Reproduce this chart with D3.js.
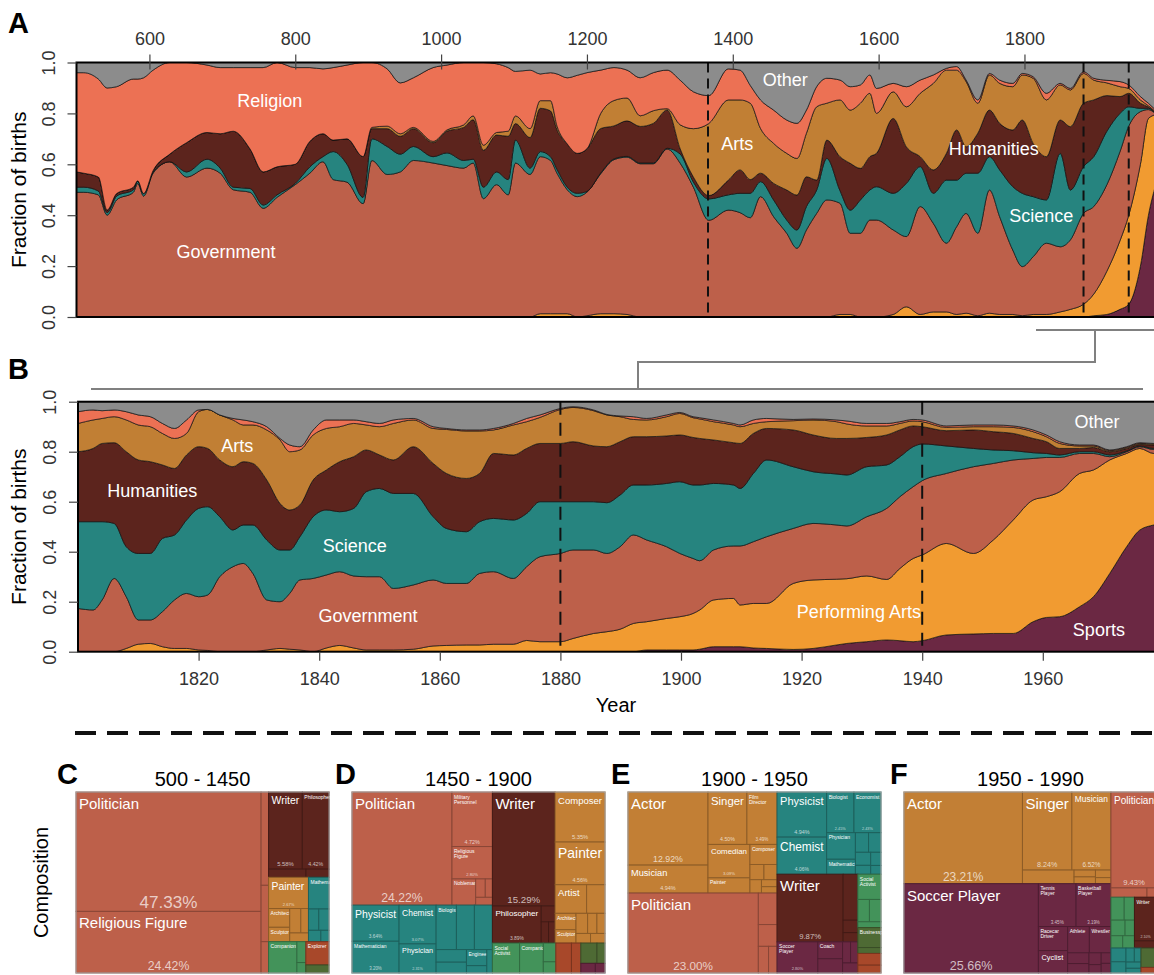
<!DOCTYPE html>
<html lang="en">
<head>
<meta charset="UTF-8">
<title>Fraction of births by domain</title>
<script src="https://d3js.org/d3.v7.min.js"></script>
<style>
  body { margin: 0; background: #fff; }
  svg { font-family: "Liberation Sans", Arial, Helvetica, sans-serif; }
</style>
</head>
<body>
<div id="chart"></div>
<script>

// ---- data: panel A (500 - 1980), shares in percent ----
const yearsA = [500,510,530,542,555,578,584,592,605,628,651,679,697,715,738,756,775,800,820,838,
  852,871,893,905,926,944,962,989,1008,1031,1044,1058,1076,1092,1102,1122,1136,1150,1159,1173,
  1187,1200,1219,1237,1255,1273,1291,1310,1328,1346,1367,1394,1410,1424,1438,1456,1474,1488,1501,1515,
  1529,1547,1561,1575,1588,1597,1620,1638,1657,1675,1693,1707,1720,1736,1752,1766,1784,1797,1812,1830,
  1849,1863,1881,1895,1913,1931,1943,1959,1970,1980];

const otherA = [4,4,6.5,10,9.5,6.5,6.5,6,3,0, 0,1,2,2,2,2,0,2,2,2.5,
  2,1,0,0,2.5,8,6,2,1,0, 0,0,0.5,2,3.5,3,4.5,4,4.5,6,
  5,4,3,2,3,6,4,3,7,11.5, 13,2.5,3,9,14.7,18.7,22.6,23.9,18.7,9.5,
  6.2,6.9,9.5,8.8,4.9,10.2,8.2,9.5,6.9,4.9, 2.3,1.6,6.9,14.7,4.3,6.9,8.2,4.3,5.6,12.1,
  8.2,10.2,3.6,6.2,7,7.5,8.8,13.4,16,18.7];
const religionA = [39,39.5,38.5,48,42,42.5,40,45.5,39.5,36, 31.5,26.5,26,25,32,41,41,38,29,25.5,
  28.5,29,37,25.5,22.5,20,19.5,29,25.5,24.5, 21,32.5,27,25,17.5,23,10.5,11,20.5,26,
  30.7,30,17,13,11,15,15,15.2,17.5,14.5, 11,12.2,11.7,7,11.2,13.1,13.1,13.8,9.1,7.9,
  9.8,7.8,9.2,7.2,7.2,9.8,3.3,7.9,5.2,3.3, 0.7,1.4,0.6,1.3,0.6,1.3,1.3,0.6,0.6,2.6,
  0.6,0.6,0.7,0.7,1,2,1.4,1.3,1,0.6];
const artsA = [0,0,0,0,0,0,0,0,0,0, 0,0,0,0,0,0,0,0,0,0,
  0,0,0,0.5,1,1,0.5,0.5,0.5,1, 1.5,2,1,2,3,3.5,3,4,1.5,0,
  0,0,6,10,9,4.2,5,0.5,9.5,19, 28.3,31.5,27.5,30,17.6,15.7,14.4,14.4,17.1,28.8,
  14.5,22.3,20.9,25.6,24.9,15.7,10.5,15.7,24.9,34, 32.7,23.5,25.6,11.8,13.8,15.7,17,17.7,25.6,22.3,
  13.8,14.4,11.7,7.8,5,3.9,1.9,1.3,0.5,0.4];
const humanitiesA = [6,5.5,5.5,1,1,1,0,0,0.5,3, 11.5,10.5,13.5,22,15.5,13,11,7.5,10,9,
  4.5,10,16,4,7,7,7,5.5,8.5,13, 15.5,14.5,14.5,17,6.5,12,17,18,15.5,17,
  15.7,16.8,17.5,13,14,14.4,15.6,15.1,2,2, 1.3,5.8,9.2,5.4,3.3,6.5,11.8,13.7,11.7,3.9,
  7.2,13.3,18.4,12.4,13.1,13.1,29.4,14.4,3.9,9.2, 10.5,19.7,10.4,15.7,18.3,18.3,22.3,28.8,20.9,17,
  13.1,24.9,24.9,22.3,14,6.6,5.3,2,0.5,0.3];
const scienceA = [2,2,1.5,1,1.5,1,1,1,0.5,0, 2,3.5,2,1,1.5,1.3,1,0.5,2.5,2,
  11,7,2.5,8.5,11,7,5.5,2.5,5,3, 1.5,4.5,5,6,9,2.5,2,1.5,1.5,1,
  1.3,0.3,0.3,0.3,0.3,0.3,0.3,0.3,3.6,2, 8.4,6,7.6,9.6,5.9,6.6,5.2,7.2,9.2,9.2,
  16.3,5,9.1,13.1,11.8,13.1,14.4,20.9,15.7,11.8, 24.8,18.3,15.8,23.6,13.1,18.4,24.9,28.8,23.6,17,
  36.7,19.6,18.4,19.6,21,15,7.6,1.3,0.5,0.2];
const governmentA = [49,49,48,40,46,49,52.5,47.5,56.5,61, 55,58.5,56.5,50,49,42.7,47,52,56.5,61,
  54,53,44.5,61.5,56,57,61.5,60.5,59.5,58.5, 60.5,46.5,52,48,60.5,56,61.7,60.2,55.2,48.7,
  47.3,48.7,55.2,60.7,62,60.4,60.4,66.2,60.4,51, 38,42,41,39,47.3,39.4,32.9,27,34.2,40.7,
  46,43.7,31.9,32.9,38.1,38.1,33.2,27.6,42.4,34.8, 27,34.5,39.2,32.4,48.4,38.4,25.3,19.3,22.7,28,
  25.6,27.3,35.7,34.4,34,35,35,20.7,3.5,0.3];
const perfArtsA = [0,0,0,0,0,0,0,0,0,0, 0,0,0,0,0,0,0,0,0,0,
  0,0,0,0,0,0,0,0,0,0, 0,0,0,0,0,0,1.3,1.3,1.3,1.3,
  0,0.5,1.3,1.3,1,0,0,0,0,0, 0,0,0,0,0,0,0,0,0,0,
  0,1,1,0,0,0,1,4,1,2, 2,1,1.5,0.5,1.5,1,1,0.5,1,1,
  2,3,5,8.5,17,27,35,40,38,27.5];
const sportsA = [0,0,0,0,0,0,0,0,0,0, 0,0,0,0,0,0,0,0,0,0,
  0,0,0,0,0,0,0,0,0,0, 0,0,0,0,0,0,0,0,0,0,
  0,0,0,0,0,0,0,0,0,0, 0,0,0,0,0,0,0,0,0,0,
  0,0,0,0,0,0,0,0,0,0, 0,0,0,0,0,0,0,0,0,0,
  0,0,0,0.5,1,3,5,20,40,52];

// ---- data: panel B (1800 - 1980), shares in percent ----
const yearsB = [1800,1802.5,1804,1806,1808,1810,1812,1814,1816,1818,1820,1821.5,1823.5,1825.7,1827.4,
  1829,1831.3,1833.5,1835.1,1836.8,1839,1841.2,1843.4,1845.7,1847.8,1850,1852.3,1855.6,1858.9,1861.1,
  1864.4,1866.6,1868.9,1872.2,1874.4,1876.6,1880,1882.1,1885.5,1887.7,1889.9,1892.1,1894.3,1897.6,1899.8,
  1902,1903.1,1905.4,1908.7,1909.8,1912,1914.2,1918.6,1921.9,1925.8,1927.5,1930.8,1934.1,1936.3,1938.5,
  1940,1944,1948.5,1951.8,1955.1,1958.4,1960.6,1962.8,1966.1,1968.4,1971.1,1973.9,1976.1,1978.4,1982];

const otherB = [4,3.3,3.6,3.3,4,5.3,6,8.7,10.7,7.3,3.3,3.1,5.3,6.7,7.3,
  8,10,14.7,17.3,18,11.3,7.3,7.3,7.3,8,8.7,7.3,6.7,10,10.7,
  11.3,11.3,10.7,8.7,6.7,5.3,2.7,2,3.3,5.1,5.7,6,6.7,5.3,4.3,
  6,6.4,7.3,8.7,9.3,7.3,6.7,7.1,6.9,7.3,7.7,8.7,8.7,8,7.1,
  7.3,9.7,9.3,9.3,9.7,11.3,13.3,16,17.3,17.3,19.3,18,16.4,16.7,16.5];
const religionB = [4.7,4,3.1,2.7,3.3,4,4,4,4,5.4,0.7,0,0,0.6,2,
  1.3,1.3,0.6,2.7,1.3,2,3.4,2.7,1.4,1.3,1.3,1.4,0.6,0.7,0.4,
  0.4,0.4,0.6,0.6,1.3,1,0.4,0.3,0.3,0.2,0.3,1.1,0.6,0.7,0.4,
  0.4,0.5,0.7,0.6,0.7,1.4,1.3,0.5,0.4,0.7,1.2,1,1,0.7,0.6,
  0.7,0.6,0.7,0.7,0.6,0.7,0.7,0.7,0.4,0.4,0.3,0.3,0.3,0.2,0.2];
const artsB = [11.3,11.4,10,10.4,12.7,14,14,12.6,12,8.6,14,15.6,18,18.7,14.7,
  15.4,20,25.4,23.3,22,18,16.6,14,13.3,10,11.3,14.6,10.7,14,17.6,
  19,17,9.4,12,10.7,10.4,13.6,13.7,14.1,12.7,10,6.9,6.7,7.7,8.6,
  7.9,7.8,7.3,7.1,6.7,4,2.7,3.7,6,6.7,5.8,4.6,3.6,2.6,2,
  2,1.3,1.3,2,2.4,2.7,2,2,1,0.6,0.4,0.4,0.4,0.4,0.3];
const humanitiesB = [28,29.3,31.3,32.3,38,37.4,36.7,29.4,26.6,26,24.7,23.3,22.7,25.3,25.3,
  24.6,24,18.6,16,12.7,14.7,16,20,20.7,16.7,13.4,13.4,18.7,21.3,22,
  21.3,19.3,26,26,26,23.3,23.3,24,22.3,22.4,21.3,19.3,19.3,19,18.7,
  19,18.6,17.4,16.9,18,16,12.6,14.7,14.7,14.2,14.6,11.7,12,10.7,8.3,
  6.9,6.1,7.4,7.3,6.9,5.7,4.7,2.6,1.3,1.7,1.3,1,0.6,1.4,1.5];
const scienceB = [34.7,35.3,31.3,22,20,26.6,26.6,29.3,26,29.4,35.3,35.3,24,14.7,15.4,
  19.4,24,20.7,17.4,17.3,24.7,26,24,27,34,35.3,38,36.6,25.3,22,
  20.7,20.7,21.3,23.4,21.3,22,20.7,19.3,19.3,20.3,20.7,20,22,25.3,28.7,
  29.4,30.3,26.6,24.4,23,27.3,30.7,24.7,20.7,20.4,20.4,20,17.4,16,16,
  14.7,11,7.3,5.4,3.7,2.3,1.6,1,0.7,0.7,0.7,0.3,0.3,0.4,0.5];
const governmentB = [17.3,16.7,20.7,29.3,20.7,9.7,9.4,14,19.4,22,21.3,22.2,30,34,35.3,
  31.3,20,18.7,22.3,28,29.3,29.2,29.5,28.8,29.3,29.3,24.6,25.7,26.4,24.8,
  24.6,28.6,29,26.3,29.5,34,35.3,35.4,33.4,31.3,33,35.4,32.7,28.7,25.3,
  22,19.7,20,21,23.6,24.7,26.7,22,22.6,21.7,21.1,23.7,28.4,28.7,28.7,
  29.7,28,34.7,30.6,24,16.6,15.7,13.7,8,6.6,1.3,0.7,0.7,1.6,1.5];
const perfArtsB = [0,0,0,0,1.3,3,3.3,2,1.3,1.3,0.7,0.5,0,0,0,
  0,0.7,1.3,1,0.7,0,1.5,2.5,1.5,0.7,0.7,0.7,1,2.3,2.5,
  2.7,2.7,3,3,4.5,4,4,5.3,7.3,8,9,11.3,11.3,12.6,13.3,
  14.6,15.7,18.7,19.3,16.7,17.8,18,26.4,27.4,26.3,25.9,26.3,24.2,28.9,33.3,
  34.3,36.6,32.2,37.4,45.4,48.7,48.3,50,53.3,50.7,45.4,37.3,32.6,28.6,27.5];
const sportsB = [0,0,0,0,0,0,0,0,0,0,0,0,0,0,0,
  0,0,0,0,0,0,0,0,0,0,0,0,0,0,0,
  0,0,0,0,0,0,0,0,0,0,0,0,0.7,0.7,0.7,
  0.7,1,2,2,2,1.5,1.3,0.9,1.3,2.7,3.3,4,4.7,4.4,4,
  4.4,6.7,7.1,7.3,7.3,12,13.7,14,18,22,31.3,42,48.7,50.7,52];

const domains = ["Sports", "Performing Arts", "Government", "Science", "Humanities", "Arts", "Religion", "Other"];
const domainColors = ["#6b2843", "#f19b31", "#bd604a", "#26847f", "#5c241d", "#c17f34", "#ec7154", "#8c8c8c"];

const tickYearsA = [600, 800, 1000, 1200, 1400, 1600, 1800];
const tickYearsB = [1820, 1840, 1860, 1880, 1900, 1920, 1940, 1960];
const tickFractions = [0, 0.2, 0.4, 0.6, 0.8, 1.0];
const cutsA = [1366, 1881, 1943];
const cutsB = [1880, 1940];

const labelsA = [["Religion", 765, 0.825], ["Government", 705, 0.232], ["Arts", 1406, 0.656],
  ["Other", 1472, 0.908], ["Humanities", 1758, 0.637], ["Science", 1823, 0.373]];
const labelsB = [["Arts", 1826.4, 0.799], ["Humanities", 1812.3, 0.619], ["Science", 1845.9, 0.399],
  ["Government", 1848.1, 0.119], ["Other", 1969, 0.895], ["Performing Arts", 1929.5, 0.135],
  ["Sports", 1969.3, 0.063]];

// ---- data: treemaps, [occupation, domain group, share %] ----
const periods = ["500 - 1450", "1450 - 1900", "1900 - 1950", "1950 - 1990"];
const compC = [
  ["Politician","gov",47.33],["Religious Figure","gov",24.42],["Nobleman","gov",1.49],["Military Personnel","gov",0.9],["Judge","gov",0.5],
  ["Writer","hum",5.58],["Philosopher","hum",4.42],["Historian","hum",0.65],["Linguist","hum",0.4],
  ["Painter","arts",2.67],["Architect","arts",0.85],["Sculptor","arts",0.65],["Artist","arts",0.58],["Composer","arts",0.4],["Musician","arts",0.35],
  ["Mathematician","sci",1.40],["Astronomer","sci",0.47],["Physician","sci",0.47],["Chemist","sci",0.3],["Geographer","sci",0.2],
  ["Companion","social",1.90],["Social Activist","social",0.4],["Celebrity","social",0.2],
  ["Explorer","explore",1.16],
  ["Businessperson","business",0.4]
];
const compD = [
  ["Politician","gov",24.22],["Military Personnel","gov",4.72],["Religious Figure","gov",2.80],["Nobleman","gov",1.33],["Judge","gov",0.38],["Diplomat","gov",0.28],["Lawyer","gov",0.28],
  ["Writer","hum",15.29],["Philosopher","hum",3.89],["Historian","hum",0.47],["Linguist","hum",0.33],["Critic","hum",0.3],
  ["Composer","arts",5.35],["Painter","arts",4.56],["Artist","arts",1.93],["Actor","arts",1.13],["Architect","arts",0.73],["Sculptor","arts",0.6],["Musician","arts",0.5],["Singer","arts",0.4],["Conductor","arts",0.35],["Photographer","arts",0.3],["Designer","arts",0.3],
  ["Physicist","sci",3.64],["Mathematician","sci",3.20],["Chemist","sci",3.07],["Physician","sci",2.31],["Biologist","sci",1.93],["Astronomer","sci",1.71],["Inventor","sci",1.71],["Economist","sci",0.82],["Geologist","sci",0.7],["Engineer","sci",0.7],["Psychologist","sci",0.32],["Geographer","sci",0.28],
  ["Social Activist","social",1.74],["Companion","social",1.52],["Celebrity","social",0.5],["Journalist","social",0.3],
  ["Explorer","explore",1.00],["Pilot","explore",0.6],
  ["Businessperson","business",0.7],["Lawyer","business",0.35],
  ["Athlete","sports",0.3],["Chess Player","sports",0.2]
];
const compE = [
  ["Actor","arts",12.92],["Musician","arts",4.94],["Singer","arts",4.50],["Film Director","arts",3.49],["Comedian","arts",3.09],["Painter","arts",1.41],["Composer","arts",1.2],["Dancer","arts",0.47],["Architect","arts",0.44],["Conductor","arts",0.34],["Artist","arts",0.24],["Producer","arts",0.22],
  ["Politician","gov",23.00],["Military Personnel","gov",1.3],["Nobleman","gov",0.9],["Judge","gov",0.6],["Diplomat","gov",0.5],
  ["Physicist","sci",4.94],["Chemist","sci",4.06],["Biologist","sci",2.45],["Economist","sci",2.43],["Physician","sci",1.69],["Mathematician","sci",0.95],["Psychologist","sci",0.57],["Engineer","sci",0.54],["Inventor","sci",0.44],["Astronomer","sci",0.3],["Computer Scientist","sci",0.3],["Geologist","sci",0.2],
  ["Writer","hum",9.87],["Philosopher","hum",1.49],["Historian","hum",0.4],["Linguist","hum",0.3],
  ["Soccer Player","sports",2.80],["Coach","sports",0.92],["Racecar Driver","sports",0.78],["Cyclist","sports",0.37],["Athlete","sports",0.34],["Boxer","sports",0.34],
  ["Social Activist","social",1.29],["Celebrity","social",0.57],["Journalist","social",0.57],["Model","social",0.3],
  ["Businessperson","business",1.02],["Lawyer","business",0.3],
  ["Explorer","explore",0.6],["Astronaut","explore",0.4]
];
const compF = [
  ["Actor","arts",23.21],["Singer","arts",8.24],["Musician","arts",6.52],["Film Director","arts",1.5],["Comedian","arts",0.31],["Producer","arts",0.31],["Dancer","arts",0.25],["Composer","arts",0.2],
  ["Soccer Player","sports",25.66],["Tennis Player","sports",3.45],["Basketball Player","sports",3.19],["Racecar Driver","sports",1.50],["Cyclist","sports",1.40],["Athlete","sports",1.22],["Wrestler","sports",1.21],["Boxer","sports",0.49],["Skier","sports",0.43],["Swimmer","sports",0.31],["Golfer","sports",0.22],["Gymnast","sports",0.22],["Chess Player","sports",0.2],
  ["Politician","gov",9.43],["Military Personnel","gov",0.72],["Nobleman","gov",0.2],
  ["Model","social",0.65],["Social Activist","social",0.5],["Celebrity","social",0.47],["Journalist","social",0.31],["Presenter","social",0.31],["Magician","social",0.31],
  ["Writer","hum",2.10],["Philosopher","hum",0.35],
  ["Physicist","sci",0.44],["Computer Scientist","sci",0.36],["Economist","sci",0.25],["Biologist","sci",0.2],["Chemist","sci",0.2],["Mathematician","sci",0.15],
  ["Businessperson","business",0.66],
  ["Astronaut","explore",0.19]
];
const compositions = [compC, compD, compE, compF];
const groupColors = {gov: "#bd604a", arts: "#c27f35", hum: "#5c241d", sci: "#26847f",
  sports: "#6b2843", social: "#43935a", explore: "#a8482a", business: "#4e6a34"};

// ---- layout ----
const W = 1154, H = 975;
const svg = d3.select("#chart").append("svg")
  .attr("width", W)
  .attr("height", H);

const xA = d3.scaleLinear().domain([500, 2000]).range([76.5, 76.5 + 1500 * 0.7292]);
const yA = d3.scaleLinear().domain([0, 1]).range([317, 62.5]);
const xB = d3.scaleLinear().domain([1800, 2000]).range([78, 78 + 200 * 6.03]);
const yB = d3.scaleLinear().domain([0, 1]).range([651.7, 401.7]);

const makeTable = (years, cols) => years.map((yr, i) => {
  const row = {year: yr};
  domains.forEach((k, j) => row[k] = cols[j][i]);
  return row;
});
const tableA = makeTable(yearsA, [sportsA, perfArtsA, governmentA, scienceA, humanitiesA, artsA, religionA, otherA]);
const tableB = makeTable(yearsB, [sportsB, perfArtsB, governmentB, scienceB, humanitiesB, artsB, religionB, otherB]);

const stack = d3.stack().keys(domains).offset(d3.stackOffsetExpand);
const color = d3.scaleOrdinal().domain(domains).range(domainColors);

function drawPanel(id, table, x, y, cuts, labels, dash) {
  const g = svg.append("g");
  const left = x.range()[0], top = y(1), bottom = y(0);

  g.append("clipPath").attr("id", id)
    .append("rect")
    .attr("x", left).attr("y", top)
    .attr("width", W - left + 5).attr("height", bottom - top);

  const area = d3.area()
    .x(d => x(d.data.year))
    .y0(d => y(d[0]))
    .y1(d => y(d[1]))
    .curve(d3.curveMonotoneX);

  const plot = g.append("g").attr("clip-path", `url(#${id})`);
  plot.selectAll("path.layer")
    .data(stack(table))
    .join("path")
      .attr("class", "layer")
      .attr("d", area)
      .attr("fill", d => color(d.key))
      .attr("stroke", "#111")
      .attr("stroke-width", 0.7)
      .attr("stroke-linejoin", "round");

  plot.selectAll("line.cut")
    .data(cuts)
    .join("line")
      .attr("class", "cut")
      .attr("x1", d => x(d)).attr("x2", d => x(d))
      .attr("y1", top).attr("y2", bottom)
      .attr("stroke", "#111")
      .attr("stroke-width", 2)
      .attr("stroke-dasharray", dash);

  plot.selectAll("text.lab")
    .data(labels)
    .join("text")
      .attr("class", "lab")
      .attr("x", d => x(d[1]))
      .attr("y", d => y(d[2]))
      .attr("text-anchor", "middle")
      .attr("fill", "#fff")
      .style("font-size", "18px")
      .text(d => d[0]);

  // frame (right edge runs off the page)
  g.append("rect")
    .attr("x", left).attr("y", top)
    .attr("width", W - left + 20).attr("height", bottom - top)
    .attr("fill", "none")
    .attr("stroke", "#000")
    .attr("stroke-width", 2);

  // y axis
  const yAxis = g.append("g")
    .attr("transform", `translate(${left},0)`)
    .call(d3.axisLeft(y).tickValues(tickFractions).tickFormat(d3.format(".1f")).tickSize(9));
  yAxis.select(".domain").remove();
  yAxis.selectAll(".tick line").attr("stroke", "#444").attr("stroke-width", 1.2);
  yAxis.selectAll(".tick text")
    .attr("x", null).attr("dy", null)
    .attr("transform", "translate(-22,0) rotate(-90)")
    .attr("text-anchor", "middle")
    .attr("fill", "#333")
    .style("font-size", "18px")
    .style("font-family", "Liberation Sans, Arial, sans-serif");

  g.append("text")
    .attr("transform", `translate(26,${(top + bottom) / 2}) rotate(-90)`)
    .attr("text-anchor", "middle")
    .style("font-size", "21px")
    .text("Fraction of births");
  return g;
}

const gA = drawPanel("clipA", tableA, xA, yA, cutsA, labelsA, "10,6");
const gB = drawPanel("clipB", tableB, xB, yB, cutsB, labelsB, "13,8");

// top axis of panel A
const axA = gA.append("g")
  .attr("transform", `translate(0,${yA(1)})`)
  .call(d3.axisTop(xA).tickValues(tickYearsA).tickFormat(d3.format("d")).tickSize(8).tickPadding(10));
axA.select(".domain").remove();
axA.selectAll(".tick line").attr("y1", 7).attr("stroke", "#444").attr("stroke-width", 1.2);
axA.selectAll(".tick text").attr("fill", "#333").style("font-size", "18px")
  .style("font-family", "Liberation Sans, Arial, sans-serif");

// bottom axis of panel B
const axB = gB.append("g")
  .attr("transform", `translate(0,${yB(0)})`)
  .call(d3.axisBottom(xB).tickValues(tickYearsB).tickFormat(d3.format("d")).tickSize(9).tickPadding(12));
axB.select(".domain").remove();
axB.selectAll(".tick line").attr("stroke", "#444").attr("stroke-width", 1.2);
axB.selectAll(".tick text").attr("fill", "#333").style("font-size", "18px")
  .style("font-family", "Liberation Sans, Arial, sans-serif");

svg.append("text")
  .attr("x", (xB(1800) + W) / 2).attr("y", 712)
  .attr("text-anchor", "middle")
  .style("font-size", "20px")
  .text("Year");

// bracket linking A to B
svg.append("path")
  .attr("d", `M${W + 5},330 H1036 M1095,330 V362 H638 V389 M91,389 H1143`)
  .attr("fill", "none")
  .attr("stroke", "#808080")
  .attr("stroke-width", 2);

// separator
svg.append("line")
  .attr("x1", 75).attr("x2", W).attr("y1", 733).attr("y2", 733)
  .attr("stroke", "#111").attr("stroke-width", 4).attr("stroke-dasharray", "21,11");

// panel letters
const letters = [["A", 8, 33], ["B", 8, 379], ["C", 57, 784], ["D", 335, 784], ["E", 611, 784], ["F", 890, 784]];
svg.selectAll("text.letter")
  .data(letters)
  .join("text")
    .attr("class", "letter")
    .attr("x", d => d[1]).attr("y", d => d[2])
    .style("font-size", "29px")
    .style("font-weight", "bold")
    .text(d => d[0]);

// ---- treemaps ----
const tmTop = 792, tmH = 181;
const band = d3.scaleBand().domain(periods).range([76, 1157]).paddingInner(0.083);

svg.append("text")
  .attr("transform", `translate(48,${tmTop + tmH / 2}) rotate(-90)`)
  .attr("text-anchor", "middle")
  .style("font-size", "20px")
  .text("Composition");

const pctFmt = d3.format(".2f");

periods.forEach((p, i) => {
  const bw = band.bandwidth();
  const g = svg.append("g").attr("transform", `translate(${band(p)},${tmTop})`);

  g.append("text")
    .attr("x", bw / 2).attr("y", -6)
    .attr("text-anchor", "middle")
    .style("font-size", "20px")
    .text(p);

  const grouped = d3.group(compositions[i], d => d[1]);
  const root = d3.hierarchy({children: Array.from(grouped, ([k, rows]) => ({
      name: k,
      children: rows.map(r => ({name: r[0], group: r[1], value: r[2]}))
    }))})
    .sum(d => d.value || 0)
    .sort((a, b) => b.value - a.value);

  d3.treemap().size([bw, tmH]).tile(d3.treemapSquarify)(root);

  const cells = g.selectAll("g.cell")
    .data(root.leaves())
    .join("g")
      .attr("class", "cell")
      .attr("transform", d => `translate(${d.x0},${d.y0})`);

  cells.append("rect")
    .attr("width", d => d.x1 - d.x0)
    .attr("height", d => d.y1 - d.y0)
    .attr("fill", d => groupColors[d.data.group])
    .attr("stroke", d => d3.color(groupColors[d.data.group]).darker(0.9))
    .attr("stroke-width", 1);

  cells.each(function(d) {
    const c = d3.select(this);
    const w = d.x1 - d.x0, h = d.y1 - d.y0;

    // occupation name, fitted to the cell
    const t = c.append("text")
      .attr("x", 3)
      .attr("fill", "#fff")
      .style("font-size", "15px")
      .text(d.data.name);
    const len = t.node().getComputedTextLength();
    const fs = Math.min(15, 15 * (w - 6) / len, h * 0.33);
    if (fs >= 7) {
      t.style("font-size", fs + "px").attr("y", fs + 2);
    } else {
      t.remove();
      const words = d.data.name.split(" ");
      if (w >= 20 && h >= 8 + words.length * 5) {
        words.forEach((wd, k) => c.append("text")
          .attr("x", 2).attr("y", 6.5 + k * 5)
          .attr("fill", "#fff")
          .style("font-size", "5px")
          .text(wd));
      }
    }

    // share, bottom centre
    let ps = Math.min(18, 0.115 * Math.sqrt(w * h));
    ps = Math.min(ps, (w - 2) / 3.4);
    if (ps >= 3.5 && h >= ps + 2) {
      c.append("text")
        .attr("x", w / 2).attr("y", h - 3)
        .attr("text-anchor", "middle")
        .attr("fill", "#fff")
        .attr("fill-opacity", 0.7)
        .style("font-size", ps + "px")
        .text(pctFmt(d.data.value) + "%");
    }
  });

  g.append("rect")
    .attr("width", bw).attr("height", tmH)
    .attr("fill", "none")
    .attr("stroke", "#b0b0b0")
    .attr("stroke-width", 1);
});

</script>
</body>
</html>
